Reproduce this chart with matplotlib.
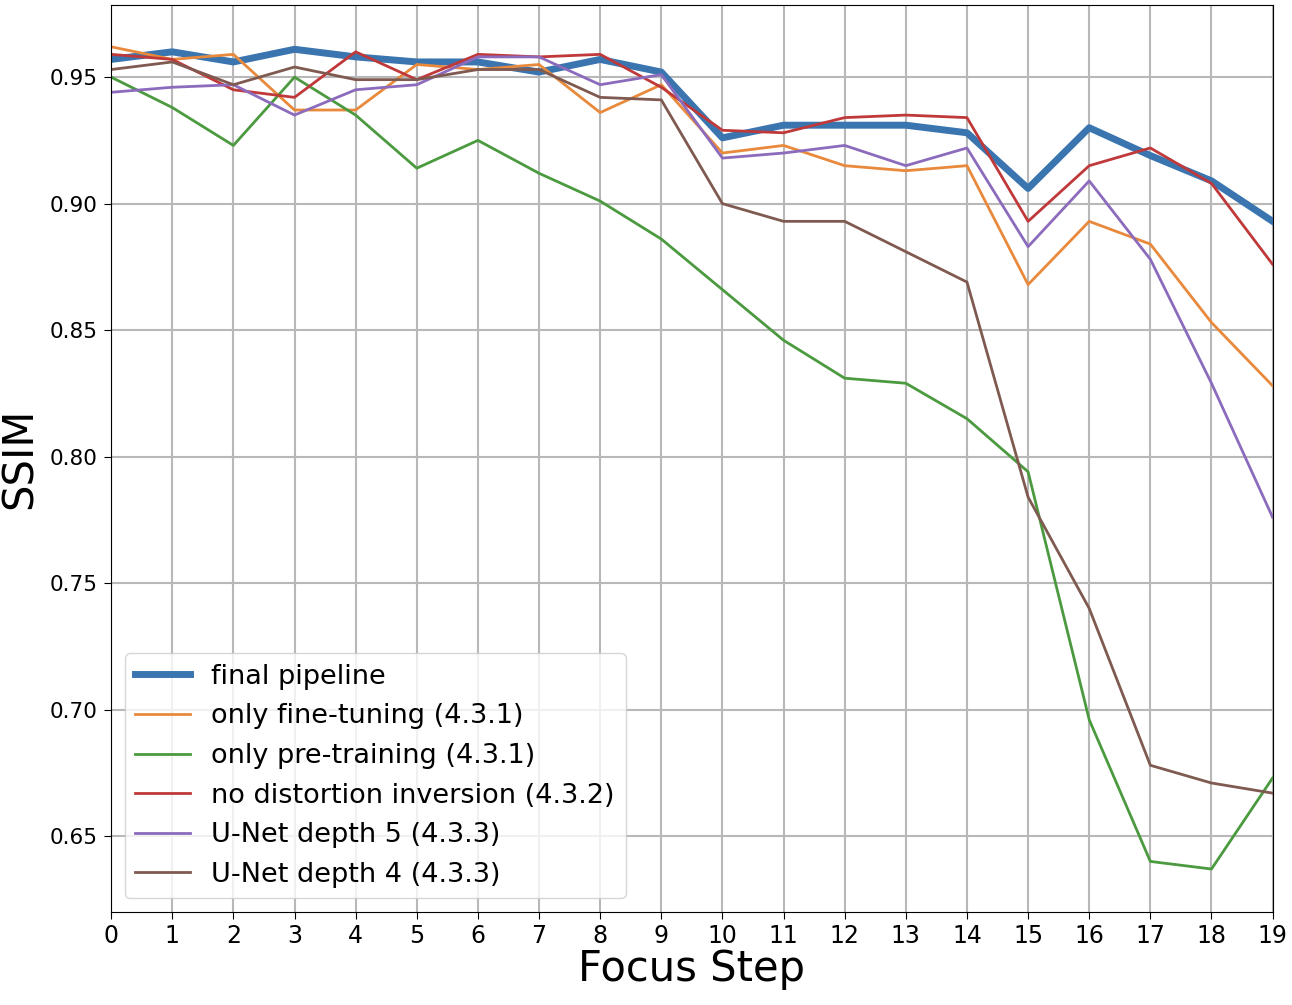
import matplotlib
matplotlib.use("Agg")
import matplotlib.pyplot as plt
import numpy as np

# focus steps
steps = list(range(20))

# SSIM per focus step
final_pipeline = [0.957, 0.960, 0.956, 0.961, 0.958, 0.956, 0.956, 0.952, 0.957, 0.952,
                  0.926, 0.931, 0.931, 0.931, 0.928, 0.906, 0.930, 0.919, 0.909, 0.893]
only_finetune = [0.962, 0.957, 0.959, 0.937, 0.937, 0.955, 0.953, 0.955, 0.936, 0.947,
                 0.920, 0.923, 0.915, 0.913, 0.915, 0.868, 0.893, 0.884, 0.853, 0.828]
only_pretrain = [0.950, 0.938, 0.923, 0.950, 0.935, 0.914, 0.925, 0.912, 0.901, 0.886,
                 0.866, 0.846, 0.831, 0.829, 0.815, 0.794, 0.696, 0.640, 0.637, 0.673]
no_distortion = [0.959, 0.957, 0.945, 0.942, 0.960, 0.949, 0.959, 0.958, 0.959, 0.946,
                 0.929, 0.928, 0.934, 0.935, 0.934, 0.893, 0.915, 0.922, 0.908, 0.876]
unet_depth5 = [0.944, 0.946, 0.947, 0.935, 0.945, 0.947, 0.958, 0.958, 0.947, 0.951,
               0.918, 0.920, 0.923, 0.915, 0.922, 0.883, 0.909, 0.878, 0.829, 0.776]
unet_depth4 = [0.953, 0.956, 0.947, 0.954, 0.949, 0.949, 0.953, 0.953, 0.942, 0.941,
               0.900, 0.893, 0.893, 0.881, 0.869, 0.784, 0.740, 0.678, 0.671, 0.667]

fig = plt.figure(figsize=(12.92, 10.05), dpi=100)
ax = fig.add_axes([0.086, 0.0925, 0.899, 0.9025])

ax.plot(steps, final_pipeline, color='#3a75b0', linewidth=5, label='final pipeline')
ax.plot(steps, only_finetune, color='#e8893c', linewidth=2, label='only fine-tuning (4.3.1)')
ax.plot(steps, only_pretrain, color='#4b9a3f', linewidth=2, label='only pre-training (4.3.1)')
ax.plot(steps, no_distortion, color='#c0393a', linewidth=2, label='no distortion inversion (4.3.2)')
ax.plot(steps, unet_depth5, color='#8c6bbd', linewidth=2, label='U-Net depth 5 (4.3.3)')
ax.plot(steps, unet_depth4, color='#7f5a50', linewidth=2, label='U-Net depth 4 (4.3.3)')

ax.set_xlim(0, 19)
ax.set_ylim(0.620, 0.9785)
ax.set_xticks(steps)
ax.set_yticks([0.65, 0.70, 0.75, 0.80, 0.85, 0.90, 0.95])
ax.tick_params(axis='x', labelsize=17, length=5)
ax.tick_params(axis='y', labelsize=15.5, length=5, pad=5)
ax.grid(True, color='#b8b8b8', linewidth=1.5)

ax.set_xlabel('Focus Step', fontsize=30, labelpad=0)
ax.set_ylabel('SSIM', fontsize=30, labelpad=6)
ax.legend(loc='lower left', fontsize=19.5)

fig.savefig('out.png', dpi=100)
